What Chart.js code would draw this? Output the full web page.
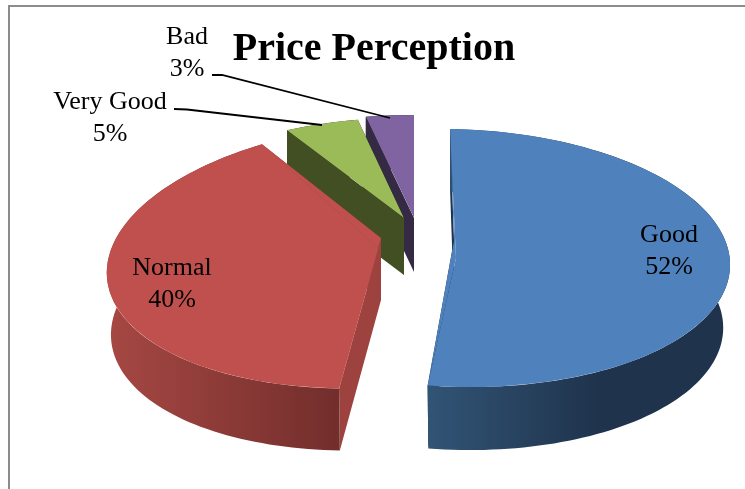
<!DOCTYPE html>
<html>
<head>
<meta charset="utf-8">
<script src="https://cdn.jsdelivr.net/npm/chart.js@4/dist/chart.umd.min.js"></script>
<style>
html,body{margin:0;padding:0;background:#fff;overflow:hidden;width:745px;height:489px}
#frame{position:absolute;left:8px;top:5px;width:760px;height:500px;border:2px solid #8c8c8c}
canvas{position:absolute;left:0;top:0}
</style>
</head>
<body>
<div id="frame"></div>
<canvas id="pie" width="745" height="489"></canvas>
<script>
const categories=["Good","Normal","Very Good","Bad"];
const shares=[52,40,5,3];
const topColors=["#4f81bd","#c0504d","#9bbb59","#8064a2"];

// how each slice lies on the page: ellipse centre and axes, wedge tip, wall height, how much the lower rim narrows
const tilt=[
  {ox:456,oy:258,ux:274,uy:4,vx:6,vy:129,ax:454,ay:240,depth:63,shrink:0.975},
  {ox:386,oy:255,ux:279,uy:-12,vx:-12,vy:133,ax:381,ay:238,depth:62,shrink:0.985},
  {ox:404,oy:218,ux:241,uy:0,vx:1,vy:100,ax:404,ay:218,depth:57,shrink:1},
  {ox:414,oy:218,ux:257,uy:0,vx:0,vy:103,ax:414,ay:218,depth:54,shrink:1}
];
const walls=[
  {side:"#1f3650",from:428,to:600,stops:["#315475","#1f334c"]},
  {side:"#9e4240",from:112,to:340,stops:["#a54743","#722e2b"]},
  {side:"#414f23",from:0,to:1,stops:["#414f23","#414f23"]},
  {side:"#352a44",from:0,to:1,stops:["#352a44","#352a44"]}
];
const labelSpots=[
  {x:669,y:235},
  {x:172,y:268},
  {x:110,y:102},
  {x:187,y:37}
];
const leaders=[
  null,
  null,
  [[174,109],[187,109.5],[322,125]],
  [[212,75],[222,75],[390,118]]
];

function onEllipse(t,a){
  return [t.ox+Math.cos(a)*t.ux+Math.sin(a)*t.vx, t.oy+Math.cos(a)*t.uy+Math.sin(a)*t.vy];
}

function tracePoly(ctx,pts){
  ctx.beginPath();
  pts.forEach((p,i)=>i?ctx.lineTo(p[0],p[1]):ctx.moveTo(p[0],p[1]));
  ctx.closePath();
}

function quad(ctx,pts,fill){
  tracePoly(ctx,pts);
  ctx.fillStyle=fill;
  ctx.fill();
}

const pie3d={
  id:"pie3d",
  beforeDatasetDraw(chart){
    const ctx=chart.ctx;
    const arcs=chart.getDatasetMeta(0).data;
    // back slices first
    [3,2,1,0].forEach(i=>{
      const arc=arcs[i], t=tilt[i], w=walls[i], d=t.depth;
      const start=arc.startAngle, end=arc.endAngle;
      const a=onEllipse(t,start), b=onEllipse(t,end);
      const tip=[t.ax,t.ay];
      const low=p=>[t.ox+(p[0]-t.ox)*t.shrink,p[1]+d];
      quad(ctx,[tip,a,low(a),[t.ax,t.ay+d]],w.side);
      quad(ctx,[tip,b,low(b),[t.ax,t.ay+d]],w.side);

      // outer wall as one path of thin strips, so the slanted ends fill in
      const steps=Math.ceil((end-start)/0.03);
      const grad=ctx.createLinearGradient(w.from,0,w.to,0);
      grad.addColorStop(0,w.stops[0]);
      grad.addColorStop(1,w.stops[1]);
      ctx.beginPath();
      for(let k=0;k<steps;k++){
        const p=onEllipse(t,start+(end-start)*k/steps);
        const q=onEllipse(t,start+(end-start)*(k+1)/steps);
        const lp=low(p), lq=low(q);
        ctx.moveTo(p[0],p[1]);
        ctx.lineTo(q[0],q[1]);
        ctx.lineTo(lq[0],lq[1]);
        ctx.lineTo(lp[0],lp[1]);
        ctx.closePath();
      }
      ctx.fillStyle=grad;
      ctx.fill();

      // the top face is cut back to the real wedge tip
      const far=p=>[t.ox+(p[0]-t.ox)*3,t.oy+(p[1]-t.oy)*3];
      const m=onEllipse(t,(start+end)/2);
      ctx.save();
      tracePoly(ctx,[a,tip,b,far(b),far(m),far(a)]);
      ctx.clip();
      quad(ctx,[a,tip,b,[t.ox,t.oy]],topColors[i]);
      const r=arc.outerRadius;
      ctx.transform(t.ux/r,t.uy/r,t.vx/r,t.vy/r,t.ox,t.oy);
      ctx.translate(-arc.x,-arc.y);
      arc.draw(ctx);
      ctx.restore();
    });
    return false;
  },
  afterDraw(chart){
    const ctx=chart.ctx;
    ctx.save();
    ctx.strokeStyle="#000";
    ctx.lineWidth=1.8;
    leaders.forEach(l=>{
      if(!l) return;
      ctx.beginPath();
      l.forEach((p,i)=>i?ctx.lineTo(p[0],p[1]):ctx.moveTo(p[0],p[1]));
      ctx.stroke();
    });
    ctx.fillStyle="#000";
    ctx.font="26px 'Liberation Serif'";
    ctx.textAlign="center";
    ctx.textBaseline="middle";
    categories.forEach((c,i)=>{
      ctx.fillText(c,labelSpots[i].x,labelSpots[i].y);
      ctx.fillText(shares[i]+"%",labelSpots[i].x,labelSpots[i].y+32);
    });
    ctx.restore();
  }
};

new Chart(document.getElementById("pie"),{
  type:"pie",
  data:{labels:categories,datasets:[{data:shares,backgroundColor:topColors,borderWidth:0}]},
  options:{
    responsive:false,
    animation:false,
    events:[],
    layout:{padding:{left:3}},
    plugins:{
      legend:{display:false},
      tooltip:{enabled:false},
      title:{display:true,text:"Price Perception",color:"#000",font:{family:"'Liberation Serif'",size:40,weight:"bold"},padding:{top:26,bottom:5}}
    }
  },
  plugins:[pie3d]
});
</script>
</body>
</html>
